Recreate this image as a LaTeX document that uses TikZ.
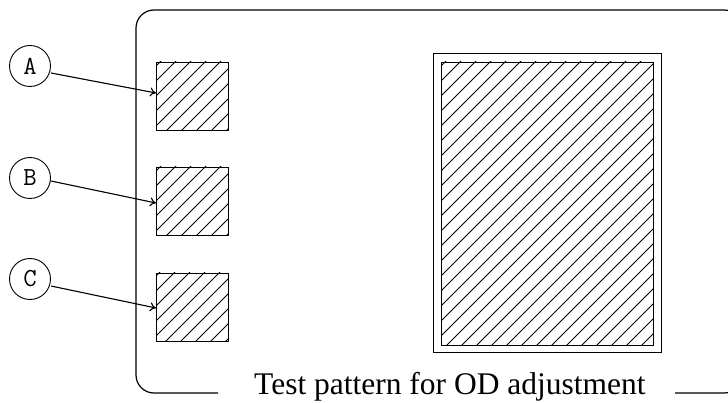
\documentclass[tikz,border=0pt]{standalone}
\usepackage{fontspec}
\setmainfont{Liberation Serif}
\usetikzlibrary{arrows.meta}
\begin{document}
\begin{tikzpicture}[x=1pt,y=-1pt,
  frame/.style={line width=1.2pt},
  box/.style={draw,line width=1.4pt},
  hatchline/.style={line width=0.9pt},
  lbl/.style={draw,circle,minimum size=41pt,inner sep=0pt,line width=0.9pt,font=\ttfamily\fontsize{26}{26}\selectfont},
  conn/.style={line width=1.1pt,-{To[length=6pt,width=9pt]}}]
\useasboundingbox (0,0) rectangle (728,403);
\begin{scope}
\clip (0,0) rectangle (728,403);
\draw[frame,rounded corners=18pt] (218,393) -| (136,10) -| (742,393) -- (675,393);
\end{scope}
% small squares
\foreach \n/\y in {a/62,b/167,c/273}{
  \begin{scope}
    \clip (156,\y) rectangle (228,\y+68);
    \foreach \c in {12,27,...,620}{
      \draw[hatchline] (\c-\y-100,\y+100) -- (\c-\y+100,\y-100);
    }
  \end{scope}
  \node[box,minimum width=72pt,minimum height=68pt,inner sep=0pt,anchor=north west] (\n) at (156,\y) {};
}
% big rectangle
\node[box,minimum width=228pt,minimum height=299pt,inner sep=0pt,anchor=north west] (outer) at (433,53) {};
\begin{scope}
  \clip (441,62) rectangle (653,345);
  \foreach \c in {12,27,...,1100}{
    \draw[hatchline] (\c-400,400) -- (\c,0);
  }
\end{scope}
\node[box,minimum width=212pt,minimum height=283pt,inner sep=0pt,anchor=north west] (inner) at (441,62) {};
% labels
\node[lbl] (la) at (30,66) {A};
\node[lbl] (lb) at (30,178) {B};
\node[lbl] (lc) at (30,279) {C};
\coordinate (ta) at (156,93);
\coordinate (tb) at (156,203);
\coordinate (tc) at (156,308);
\draw[conn] (la.east) ++(0,7) -- (ta);
\draw[conn] (lb.east) ++(0,3) -- (tb);
\draw[conn] (lc.east) ++(0,7) -- (tc);
\node[anchor=base west,inner sep=0pt,font=\fontsize{31.5}{31.5}\selectfont] (cap) at (254,394) {Test pattern for OD adjustment};
\end{tikzpicture}
\end{document}
